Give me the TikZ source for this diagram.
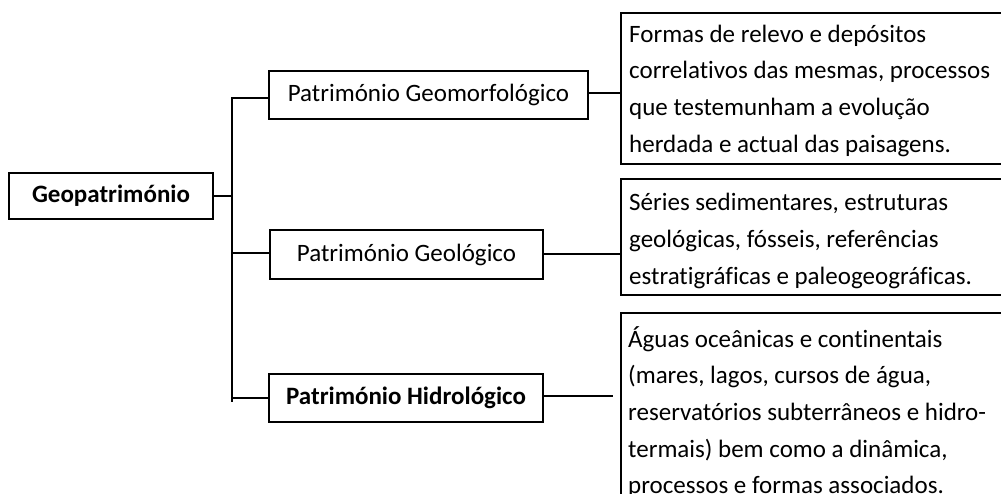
\documentclass[tikz,border=0pt]{standalone}
\usepackage{fontspec}
\setmainfont{Carlito}[Ligatures=NoCommon]
\begin{document}
\begin{tikzpicture}[x=1pt,y=-1pt,
  box/.style={draw, line width=2pt, inner sep=0pt, font=\fontsize{25}{36.6}\selectfont},
  conn/.style={line width=2pt},
  desc/.style={inner sep=0pt, align=left, anchor=north west, font=\fontsize{25}{36.6}\selectfont}]
\useasboundingbox (0,0) rectangle (1001,494);
% left column
\node[box, minimum width=204pt, minimum height=46pt] (geo) at (111,196) {\bfseries Geopatrimónio};
\node[box, minimum width=319pt, minimum height=48pt] (pgm) at (428.5,95) {Património Geomorfológico};
\node[box, minimum width=273pt, minimum height=49pt] (pgl) at (406.5,254.5) {Património Geológico};
\node[box, minimum width=274pt, minimum height=48pt] (ph) at (406,398) {\bfseries Património Hidrológico};
% right column boxes
\node[box, minimum width=380.5pt, minimum height=151pt, anchor=north west] (d1) at (620,12) {};
\node[box, minimum width=380.5pt, minimum height=116pt, anchor=north west] (d2) at (620,178) {};
\node[box, minimum width=380.5pt, minimum height=200pt, anchor=north west] (d3) at (620,312) {};
% right column texts
\node[desc] (t1) at (629,16.4) {\strut Formas de relevo e depósitos\\correlativos das mesmas, processos\\que testemunham a evolução\\herdada e actual das paisagens.};
\node[desc] (t2) at (629,185) {\strut Séries sedimentares, estruturas\\geológicas, fósseis, referências\\estratigráficas e paleogeográficas.};
\node[desc] (t3) at (628,321.4) {\strut Águas oceânicas e continentais\\(mares, lagos, cursos de água,\\reservatórios subterrâneos e hidro-\\termais) bem como a dinâmica,\\processos e formas associados.};
% trunk
\coordinate (b1) at (232,98);
\coordinate (b2) at (232,253);
\coordinate (b3) at (232,398);
\coordinate (tb) at (232,402);
\draw[conn] (b1 -| pgm.west) -- (b1) -- (tb);
\draw[conn] (geo.east) -- (geo.east -| b1);
\draw[conn] (b2) -- (b2 -| pgl.west);
\draw[conn] (b3) -- (b3 -| ph.west);
% right connectors
\coordinate (r1) at (604,93);
\coordinate (r2) at (580,254);
\coordinate (r3e) at (613,396);
\draw[conn] (pgm.east |- r1) -- (d1.west |- r1);
\draw[conn] (pgl.east |- r2) -- (d2.west |- r2);
\draw[conn] (ph.east |- r3e) -- (r3e);
\end{tikzpicture}
\end{document}
